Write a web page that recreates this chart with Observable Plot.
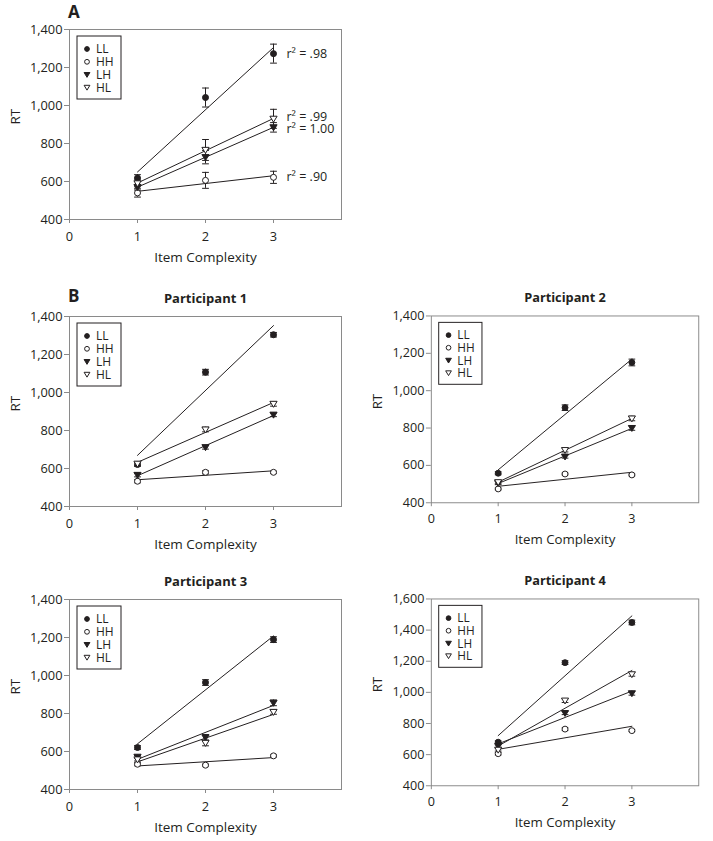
<!DOCTYPE html>
<html>
<head>
<meta charset="utf-8">
<script src="https://cdn.jsdelivr.net/npm/d3@7"></script>
<script src="https://cdn.jsdelivr.net/npm/@observablehq/plot@0.6"></script>
<style>
  html, body { margin: 0; padding: 0; background: #fff; }
  #root { position: relative; width: 713px; height: 841px; font-family: "Open Sans", sans-serif; color: #231f20; }
  .panel { position: absolute; }
  .letter { position: absolute; font-weight: bold; font-size: 17px; line-height: 1; }
</style>
</head>
<body>
<div id="root"></div>
<script>
// ---------- data ----------
const complexity = [1, 2, 3];
const conditions = ["LL", "HH", "LH", "HL"];
const xTicks = [0, 1, 2, 3];
const yTicks1400 = [400, 600, 800, 1000, 1200, 1400];
const yTicks1600 = [400, 600, 800, 1000, 1200, 1400, 1600];

// rows follow `conditions` order, columns follow `complexity`
const rtA  = [[618, 1042, 1273], [540, 606, 622], [570, 728, 885], [590, 766, 930]];
const errA = [[18, 50, 50], [22, 42, 32], [15, 35, 25], [18, 55, 50]];
const r2A  = [".98", ".90", "1.00", ".99"];
const r2Shift = [0, 0, 2, -2];

const rtP1  = [[621, 1107, 1304], [533, 580, 580], [566, 712, 883], [625, 805, 940]];
const errP1 = [[10, 15, 12], [8, 8, 6], [10, 10, 10], [8, 12, 12]];
const rtP2  = [[558, 909, 1151], [474, 554, 549], [505, 647, 800], [510, 682, 851]];
const errP2 = [[8, 15, 18], [5, 5, 5], [8, 8, 12], [8, 10, 12]];
const rtP3  = [[621, 963, 1189], [533, 528, 577], [572, 674, 856], [558, 645, 808]];
const errP3 = [[10, 15, 15], [8, 5, 6], [8, 15, 15], [8, 15, 12]];
const rtP4  = [[680, 1191, 1449], [606, 764, 754], [655, 867, 994], [631, 947, 1116]];
const errP4 = [[8, 12, 15], [8, 8, 6], [8, 10, 12], [8, 12, 12]];

// ---------- styling ----------
const INK = "#231f20";
const GRAY = "#8a8a8a";
const TICK_FONT = "12.8px";
const triDown = {
  draw(ctx, size) {
    const r = Math.sqrt(size / Math.PI);
    ctx.moveTo(-r, -0.72 * r);
    ctx.lineTo(r, -0.72 * r);
    ctx.lineTo(0, 0.95 * r);
    ctx.closePath();
  }
};
const capSym = {
  draw(ctx, size) {
    const r = Math.sqrt(size / Math.PI);
    ctx.moveTo(-r, 0);
    ctx.lineTo(r, 0);
  }
};
const markerStyle = {
  LL: {symbol: "circle", fill: INK, stroke: INK, r: 3},
  HH: {symbol: "circle", fill: "white", stroke: INK, r: 3},
  LH: {symbol: triDown, fill: INK, stroke: INK, r: 3.6},
  HL: {symbol: triDown, fill: "white", stroke: INK, r: 3.6}
};

const W = 356, ML = 69, MR = 15, MT = 31, MB = 54;
const fmt = d3.format(",");

function makePanel({rt, err, yDomain, yTicks, title, r2, marginTop = MT}) {
  const rows = conditions.flatMap((c, i) => complexity.map((x, j) => ({
    cond: c, x, rt: rt[i][j], lo: rt[i][j] - err[i][j], hi: rt[i][j] + err[i][j]
  })));
  const marks = [
    Plot.frame({stroke: GRAY, strokeWidth: 1})
  ];
  for (const c of conditions) {
    const d = rows.filter(r => r.cond === c);
    marks.push(Plot.linearRegressionY(d, {x: "x", y: "rt", stroke: INK, strokeWidth: 1, ci: 0}));
  }
  marks.push(Plot.ruleX(rows, {x: "x", y1: "lo", y2: "hi", stroke: INK, strokeWidth: 1}));
  marks.push(Plot.dot(rows, {x: "x", y: "lo", symbol: capSym, r: 3.4, stroke: INK, strokeWidth: 1, fill: "none"}));
  marks.push(Plot.dot(rows, {x: "x", y: "hi", symbol: capSym, r: 3.4, stroke: INK, strokeWidth: 1, fill: "none"}));
  for (const c of conditions) {
    const s = markerStyle[c];
    marks.push(Plot.dot(rows.filter(r => r.cond === c), {
      x: "x", y: "rt", symbol: s.symbol, r: s.r, fill: s.fill, stroke: s.stroke, strokeWidth: 1
    }));
  }
  if (r2) {
    const lab = conditions.map((c, i) => ({x: complexity[2], rt: rt[i][2], shift: r2Shift[i], val: r2[i]}));
    for (const L of lab) {
      marks.push(Plot.text([L], {x: "x", y: "rt", text: d => "r\u00b2 = " + d.val, dx: 13, dy: L.shift,
        textAnchor: "start", fontSize: 12.5, fill: INK, ariaLabel: "r2-label"}));
    }
  }
  // axis titles
  marks.push(Plot.text(["Item Complexity"], {frameAnchor: "bottom", dy: 38, lineAnchor: "middle", fontSize: 13.5, fill: INK, ariaLabel: "xtitle"}));
  marks.push(Plot.text(["RT"], {frameAnchor: "left", dx: -54, rotate: -90, lineAnchor: "middle", fontSize: 13.5, fill: INK, ariaLabel: "ytitle"}));
  if (title) {
    marks.push(Plot.text([title], {frameAnchor: "top", dy: -18, lineAnchor: "middle", fontSize: 13, fontWeight: "bold", fill: INK, ariaLabel: "ptitle"}));
  }
  const svg = Plot.plot({
    width: W, height: marginTop + 190 + MB,
    marginLeft: ML, marginRight: MR, marginTop, marginBottom: MB,
    style: {fontFamily: "Open Sans, sans-serif", fontSize: TICK_FONT, color: INK, background: "white"},
    x: {domain: [0, 4], ticks: xTicks, tickFormat: d => String(d), tickSize: 4, tickPadding: 8, label: null},
    y: {domain: yDomain, ticks: yTicks, tickFormat: fmt, tickSize: 5, tickPadding: 2, label: null},
    marks
  });
  // italic r with raised 2 for r² labels
  d3.select(svg).selectAll("g[aria-label='r2-label'] text").each(function () {
    const t = d3.select(this);
    const full = t.text();
    const rest = full.slice(2);
    t.text(null);
    t.append("tspan").attr("font-style", "italic").style("font-style", "italic").text("r");
    t.append("tspan").attr("font-size", "8px").attr("dy", "-0.45em").attr("dx", "1").text("2");
    t.append("tspan").attr("dy", "0.3em").text(rest);
  });
  // legend box inside the frame
  const g = d3.select(svg).append("g").attr("transform", `translate(${ML},${marginTop})`)
    .attr("text-anchor", "start").attr("class", "legendbox");
  g.append("rect").attr("x", 8).attr("y", 7).attr("width", 44).attr("height", 63)
    .attr("fill", "white").attr("stroke", INK).attr("stroke-width", 1);
  conditions.forEach((c, i) => {
    const y = 20 + 12.8 * i;
    const s = markerStyle[c];
    if (s.symbol === "circle") {
      g.append("circle").attr("cx", 18).attr("cy", y).attr("r", 2.4)
        .attr("fill", s.fill).attr("stroke", s.stroke);
    } else {
      const p = d3.path();
      s.symbol.draw(p, Math.PI * 2.9 * 2.9);
      g.append("path").attr("transform", `translate(18,${y})`).attr("d", p.toString())
        .attr("fill", s.fill).attr("stroke", s.stroke);
    }
    g.append("text").attr("x", 27).attr("y", y).attr("dy", "0.36em").style("font-size", "12px")
      .attr("text-anchor", "start").attr("fill", INK).text(c);
  });
  return svg;
}

const root = document.getElementById("root");
function place(el, left, top) {
  const wrap = document.createElement("div");
  wrap.className = "panel";
  wrap.style.left = left + "px";
  wrap.style.top = top + "px";
  wrap.appendChild(el);
  root.appendChild(wrap);
  // enlarge axis tick labels: any text still at Plot's small default size
  el.querySelectorAll("text").forEach(t => {
    const fs = parseFloat(getComputedStyle(t).fontSize);
    if (fs <= 10.5) t.style.fontSize = TICK_FONT;
  });
  // gray tick marks: short axis tick paths/lines outside legend
  el.querySelectorAll("g[aria-label*='tick'] path, g[aria-label*='axis'] path, g[aria-label*='axis'] line, g.tick line")
    .forEach(p => p.setAttribute("stroke", GRAY));
}
function letter(t, left, top) {
  const d = document.createElement("div");
  d.className = "letter";
  d.textContent = t;
  d.style.left = left + "px";
  d.style.top = top + "px";
  root.appendChild(d);
}

place(makePanel({rt: rtA, err: errA, yDomain: [400, 1400], yTicks: yTicks1400, r2: r2A, marginTop: 29}), 0, 0);
place(makePanel({rt: rtP1, err: errP1, yDomain: [400, 1400], yTicks: yTicks1400, title: "Participant 1"}), 0, 285);
place(makePanel({rt: rtP2, err: errP2, yDomain: [400, 1400], yTicks: yTicks1400, title: "Participant 2"}), 363, 285);
place(makePanel({rt: rtP3, err: errP3, yDomain: [400, 1400], yTicks: yTicks1400, title: "Participant 3"}), 0, 568);
place(makePanel({rt: rtP4, err: errP4, yDomain: [400, 1600], yTicks: yTicks1600, title: "Participant 4"}), 363, 568);
letter("A", 68, 3);
letter("B", 68, 287);
</script>
</body>
</html>
